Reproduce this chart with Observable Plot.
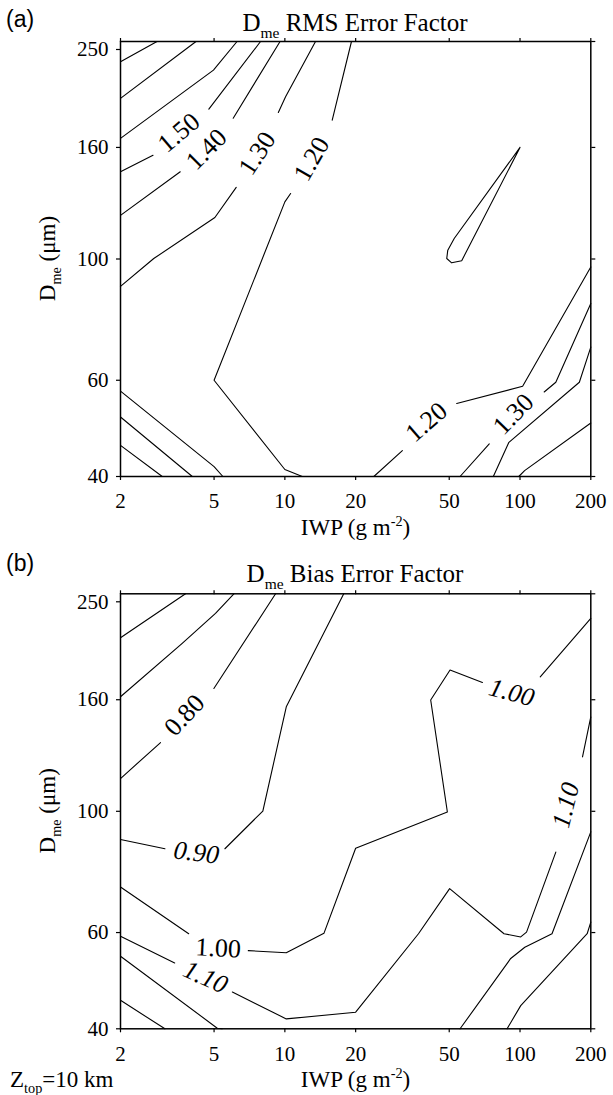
<!DOCTYPE html>
<html><head><meta charset="utf-8">
<script src="https://cdn.jsdelivr.net/npm/d3@7"></script>
<script src="https://cdn.jsdelivr.net/npm/@observablehq/plot@0.6"></script>
<style>
body{margin:0;background:#fff;}
#wrap{position:relative;width:613px;height:1095px;overflow:hidden;background:#fff;}
#wrap svg{position:absolute;left:0;}
</style></head><body><div id="wrap"></div>
<script>
// ---------- axes ----------
const xTicks = [2, 5, 10, 20, 50, 100, 200];
const yTicks = [40, 60, 100, 160, 250];

// ---------- panel (a): RMS error factor contours, [IWP (g m-2), Dme (um)] ----------
const rms180  = [[2,229.6],[2.86,250]];
const rms170  = [[2,196.7],[4.19,250]];
const rms160  = [[2,166.2],[4.97,221.6],[6.26,250]];
const rms150a = [[2,144.4],[2.75,154.8]];
const rms150b = [[4.75,188],[7.88,250]];
const rms140a = [[2,120.2],[3.59,144.4]];
const rms140b = [[6.03,181],[9.54,250]];
const rms130a = [[2,89.1],[2.77,100.2],[5.04,119.1],[6.21,135.2]];
const rms130b = [[9.38,185.4],[10.07,198],[13.5,250]];
const rms120a = [[19.2,250],[15.9,179.5]];
const rms120b = [[10.58,131.8],[10,127.2],[5,60],[10,41.2],[11.86,40]];
const rms120c = [[23.9,40],[31.6,44.6]];
const rms120d = [[53.8,54.4],[102.6,58.5],[200,96.7]];
const rms130c = [[55.6,40],[74,45.9]];
const rms130d = [[126.7,57.1],[142,59.5],[200,82.9]];
const rms140c = [[77,40],[89.7,46.2],[178.8,59.5],[200,69]];
const rms150c = [[98.8,40],[104.6,41],[200,50.1]];
const rms130e = [[2,57.3],[5,41.7],[5.45,40]];
const rms140d = [[2,51.4],[4.04,40]];
const rms150d = [[2,45.6],[3.01,40]];
const rmsLoop = [[100,160],[52.5,109],[49.3,103.8],[48.8,100.2],[51.2,98.4],[56.5,99.3],[100,160]];
const rmsSegments = [rms180, rms170, rms160, rms150a, rms150b, rms140a, rms140b, rms130a, rms130b,
  rms120a, rms120b, rms120c, rms120d, rms130c, rms130d, rms140c, rms150c, rms130e, rms140d, rms150d, rmsLoop];

const rmsLabelText = ["1.50", "1.40", "1.30", "1.20", "1.20", "1.30"];
const rmsLabelX    = [3.54, 4.64, 7.63, 13.0, 40, 93.7];
const rmsLabelY    = [170.3, 158.7, 156, 152.3, 50.3, 52];
const rmsLabelRot  = [-40, -45, -57, -60, -41, -46];
const rmsLabelItal = [false, false, false, false, false, false];

// ---------- panel (b): Bias error factor contours ----------
const bias060  = [[2,207.7],[3.78,250]];
const bias070  = [[2,162],[3.66,202.9],[5.07,230.2],[6.07,250]];
const bias080a = [[2,114.8],[2.96,133.6]];
const bias080b = [[4.99,167.8],[9.13,250]];
const bias090a = [[2,88.8],[3.09,85.4]];
const bias090b = [[5.56,85.4],[8.06,100.1],[10.14,155.3],[17.8,250]];
const bias100a = [[2,72.7],[3.9,59.7]];
const bias100b = [[6.99,55.6],[10.14,55.1],[14.66,59.8],[20,85.6],[49.1,99.7],[41.7,159.8],[50.4,181.3],[69.2,172.1]];
const bias100c = [[121.9,176.2],[200,225.4]];
const bias110a = [[2,59.1],[3.4,52.8]];
const bias110b = [[5.98,46.7],[10.14,41.7],[20,42.9],[37,59.7],[50.2,72.2],[85.5,59.7],[100.7,58.9],[106.6,60.1],[142,84.2]];
const bias110c = [[184.4,125.8],[200,148.8]];
const bias120a = [[2,54.3],[5.16,40.1],[5.42,40]];
const bias130a = [[2,45.1],[3.09,40]];
const bias120b = [[55.6,40],[91.3,53.8],[104.8,56.4],[136.8,59.7],[200,91.7]];
const bias130b = [[88.1,40],[100.7,44.1],[193,59.7],[200,62.7]];
const biasSegments = [bias060, bias070, bias080a, bias080b, bias090a, bias090b, bias100a, bias100b, bias100c,
  bias110a, bias110b, bias110c, bias120a, bias130a, bias120b, bias130b];

const biasLabelText = ["0.80", "0.90", "1.00", "1.10", "1.00", "1.10"];
const biasLabelX    = [3.74, 4.2, 5.2, 4.6, 92.2, 156.6];
const biasLabelY    = [149.9, 84, 56.2, 49.7, 164.9, 102.6];
const biasLabelRot  = [-47, 7, 3, 24, 15, -76];
const biasLabelItal = [false, true, false, true, true, true];

// ---------- build ----------
const SERIF = '"Liberation Serif", "Times New Roman", serif';
const SANS = '"Liberation Sans", Arial, sans-serif';

function rowsOf(segs) {
  const rows = [];
  segs.forEach((s, i) => s.forEach(([x, y]) => rows.push({x, y, seg: i})));
  return rows;
}
function labelsOf(t, x, y, r, it) {
  return t.map((d, i) => ({text: d, x: x[i], y: y[i], rotate: r[i], italic: it[i]}));
}

function panel(segs, labels, mt, mb, h) {
  const rows = rowsOf(segs);
  const svg = Plot.plot({
    width: 613, height: h,
    marginLeft: 120, marginRight: 22.7, marginTop: mt, marginBottom: mb,
    style: {fontFamily: SERIF, fontSize: "21px", color: "#000", background: "transparent", overflow: "visible"},
    x: {type: "log", domain: [2, 200]},
    y: {type: "log", domain: [40, 250]},
    marks: [
      Plot.line(rows, {x: "x", y: "y", z: "seg", stroke: "#000", strokeWidth: 1.1}),
      Plot.text(labels.filter(d => !d.italic), {x: "x", y: "y", text: "text", rotate: "rotate",
        fontSize: 26, fill: "#000"}),
      Plot.text(labels.filter(d => d.italic), {x: "x", y: "y", text: "text", rotate: "rotate",
        fontSize: 26, fill: "#000", fontStyle: "italic"}),
      Plot.frame({stroke: "#000", strokeWidth: 1.5}),
      Plot.axisX({anchor: "bottom", ticks: xTicks, tickFormat: d => String(d), tickSize: 4, tickPadding: 13, label: null, strokeWidth: 1.2}),
      Plot.axisX({anchor: "top", ticks: xTicks, tickFormat: () => "", tickSize: 4, label: null, strokeWidth: 1.2}),
      Plot.axisY({anchor: "left", ticks: yTicks.slice(0, 4), tickFormat: d => String(d), tickSize: 4, tickPadding: 8, label: null, strokeWidth: 1.2}),
      Plot.axisY({anchor: "left", ticks: yTicks.slice(4), tickFormat: d => String(d), tickSize: 4, tickPadding: 8, dy: 8, label: null, strokeWidth: 1.2}),
      Plot.axisY({anchor: "right", ticks: yTicks, tickFormat: () => "", tickSize: 4, label: null, strokeWidth: 1.2})
    ]
  });
  d3.select(svg).selectAll("[font-variant]").attr("font-variant", null);
  d3.select(svg).selectAll("text").style("font-family", SERIF);
  return svg;
}

const wrap = document.getElementById("wrap");
const pa = panel(rmsSegments, labelsOf(rmsLabelText, rmsLabelX, rmsLabelY, rmsLabelRot, rmsLabelItal), 41, 74, 550);
pa.style.top = "0px";
wrap.appendChild(pa);
const pb = panel(biasSegments, labelsOf(biasLabelText, biasLabelX, biasLabelY, biasLabelRot, biasLabelItal), 43.3, 66.7, 545);
pb.style.top = "550px";
wrap.appendChild(pb);

// ---------- overlay text (titles, axis labels) ----------
const ov = d3.select(wrap).append("svg").attr("width", 613).attr("height", 1095)
  .style("top", "0px").style("pointer-events", "none");

function rich(x, y, size, parts, opts = {}) {
  const fam = opts.family || SERIF;
  const t = ov.append("text").attr("x", x).attr("y", y)
    .attr("font-size", size).style("font-family", fam)
    .attr("text-anchor", opts.anchor || "start").attr("fill", "#000");
  if (opts.rotate) t.attr("transform", `rotate(${opts.rotate},${x},${y})`);
  let shift = 0;
  parts.forEach(([s, kind]) => {
    const ts = t.append("tspan").text(s);
    let target = 0, fs = size;
    if (kind === "sub") { target = size * 0.28; fs = size * 0.62; }
    if (kind === "sup") { target = -size * 0.38; fs = size * 0.62; }
    ts.attr("font-size", fs).attr("dy", target - shift);
    shift = target;
  });
}

rich(6, 27, 23, [["(a)"]], {family: SANS});
rich(355, 31, 25, [["D"], ["me", "sub"], [" RMS Error Factor"]], {anchor: "middle"});
rich(55, 258.5, 23, [["D"], ["me", "sub"], [" (μm)"]], {anchor: "middle", rotate: -90});
rich(355.5, 535, 23, [["IWP (g m"], ["-2", "sup"], [")"]], {anchor: "middle"});

rich(6, 571, 23, [["(b)"]], {family: SANS});
rich(355, 582, 25, [["D"], ["me", "sub"], [" Bias Error Factor"]], {anchor: "middle"});
rich(55, 810.8, 23, [["D"], ["me", "sub"], [" (μm)"]], {anchor: "middle", rotate: -90});
rich(355.5, 1087, 23, [["IWP (g m"], ["-2", "sup"], [")"]], {anchor: "middle"});
rich(10, 1087, 23, [["Z"], ["top", "sub"], ["=10 km"]]);
</script></body></html>
